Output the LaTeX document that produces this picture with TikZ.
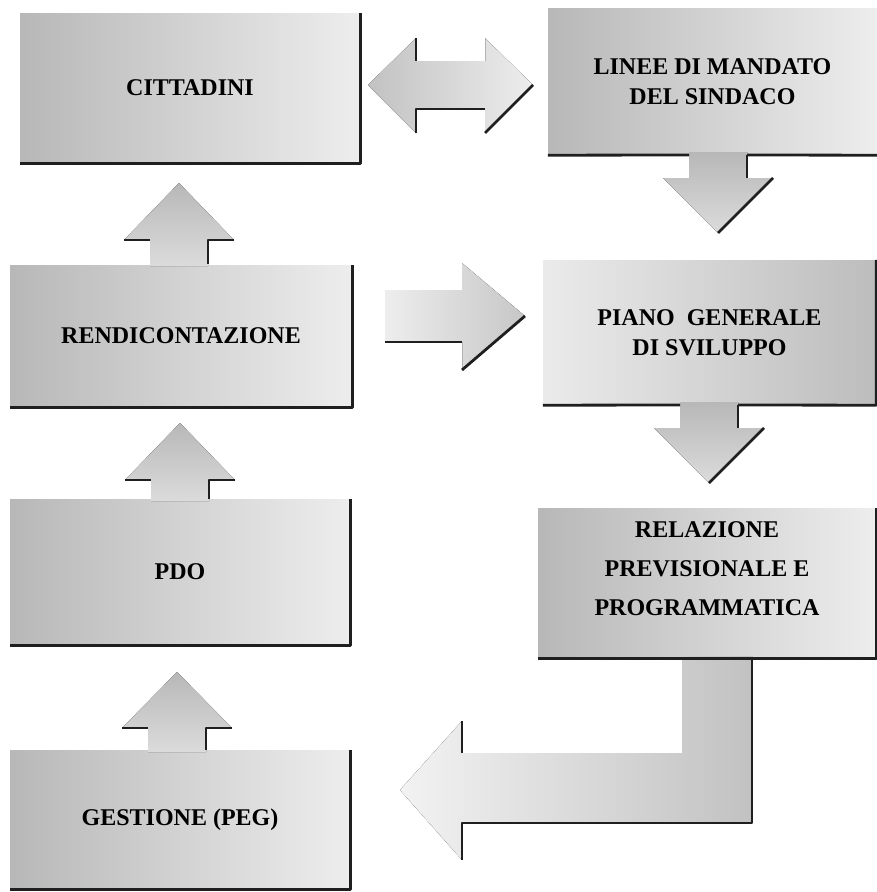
\documentclass[tikz,border=0pt]{standalone}
\usepackage{fontspec}
\setmainfont{Liberation Serif}
\usepackage{tikz}

\begin{document}
\begin{tikzpicture}[x=1pt,y=-1pt,
    box/.style={rectangle,inner sep=0pt,align=center,font=\bfseries\fontsize{24}{30}\selectfont},
    shadeL/.style={left color=black!28,right color=black!7},
    shadeR/.style={left color=black!8,right color=black!26},
    blockarrow/.style={top color=black!28,bottom color=black!14},
    shadow/.style={line width=2.8pt,draw=black!88,line join=round}]
                \useasboundingbox (0,0) rectangle (877,892);
                \node (citt)  [box,shadeL,minimum width=340pt,minimum height=150pt] at (190,88) {CITTADINI};
                \node (rend)  [box,shadeL,minimum width=342pt,minimum height=142pt] at (181,336) {RENDICONTAZIONE};
                \node (pdo)   [box,shadeL,minimum width=340pt,minimum height=146pt] at (180,572) {PDO};
                \node (gest)  [box,shadeL,minimum width=340pt,minimum height=139pt] at (180,819.5) {GESTIONE (PEG)};
                \node (linee) [box,shadeL,minimum width=329pt,minimum height=147pt] at (712.5,81.5) {LINEE DI MANDATO\\DEL SINDACO};
                \node (piano) [box,shadeR,minimum width=333pt,minimum height=145pt] at (709.5,332.5) {PIANO~~GENERALE\\DI SVILUPPO};
                \node (rel)   [box,shadeL,minimum width=338pt,minimum height=150pt,text depth=28pt,
                               font=\bfseries\fontsize{24}{39}\selectfont] at (707,583) {RELAZIONE\\PREVISIONALE E\\PROGRAMMATICA};
                \foreach \Cx/\Tip/\Base/\Foot in {179/183/240/266, 180/423/480/501, 177/672/728/752}{
                \fill[blockarrow] (\Cx,\Tip) -- (\Cx+55,\Base) -- (\Cx+29,\Base) -- (\Cx+29,\Foot) -- (\Cx-29,\Foot) -- (\Cx-29,\Base) -- (\Cx-55,\Base) -- cycle;
                \draw[shadow] (\Cx-55,\Base) -- (\Cx-29,\Base);
                \draw[shadow] (\Cx+55,\Base) -- (\Cx+29,\Base) -- (\Cx+29,\Foot-2);
                }
                \foreach \Cx/\Top/\Base/\Tip in {718/152/178/233, 709/402/428/483}{
                \fill[blockarrow] (\Cx-29,\Top) -- (\Cx+29,\Top) -- (\Cx+29,\Base) -- (\Cx+55,\Base) -- (\Cx,\Tip) -- (\Cx-55,\Base) -- (\Cx-29,\Base) -- cycle;
                \draw[shadow] (\Cx+29,\Top+3) -- (\Cx+29,\Base);
                \draw[shadow] (\Cx+55,\Base) -- (\Cx,\Tip);
                }
                \fill[left color=black!24,right color=black!7] (368,85) -- (416,38) -- (416,61) -- (485,61) -- (485,38) -- (533,85) -- (485,133) -- (485,109) -- (416,109) -- (416,133) -- cycle;
                \draw[black!30,thin] (485,38) -- (485,61);
                \draw[shadow] (416,38) -- (416,61);
                \draw[shadow] (416,133) -- (416,109) -- (485,109);
                \draw[shadow] (485,133) -- (533,85);
                \fill[left color=black!7,right color=black!22] (385,290) -- (462,290) -- (462,263) -- (525,316) -- (462,370) -- (462,342) -- (385,342) -- cycle;
                \draw[black!30,thin] (462,342) -- (462,370);
                \draw[shadow] (385,342) -- (462,342);
                \draw[shadow] (462,370) -- (525,316);
                \fill[left color=black!5,right color=black!24] (682,656) -- (752,656) -- (752,823) -- (462,823) -- (462,860) -- (400,790) -- (462,721) -- (462,753) -- (682,753) -- cycle;
                \draw[shadow] (752,658) -- (752,823) -- (462,823) -- (462,860);
                \draw[shadow] (462,721) -- (462,753);
                \foreach \Box in {citt,rend,pdo,gest,rel}
                \draw[shadow] (\Box.north east) -- (\Box.south east) -- (\Box.south west);
                \draw[shadow] (linee.south west) -- (689,155);
                \draw[shadow] (747,155) -- (linee.south east);
                \draw[shadow] (piano.north east) -- (piano.south east) -- (738,405);
                \draw[shadow] (680,405) -- (piano.south west);
            \end{tikzpicture}
\end{document}
